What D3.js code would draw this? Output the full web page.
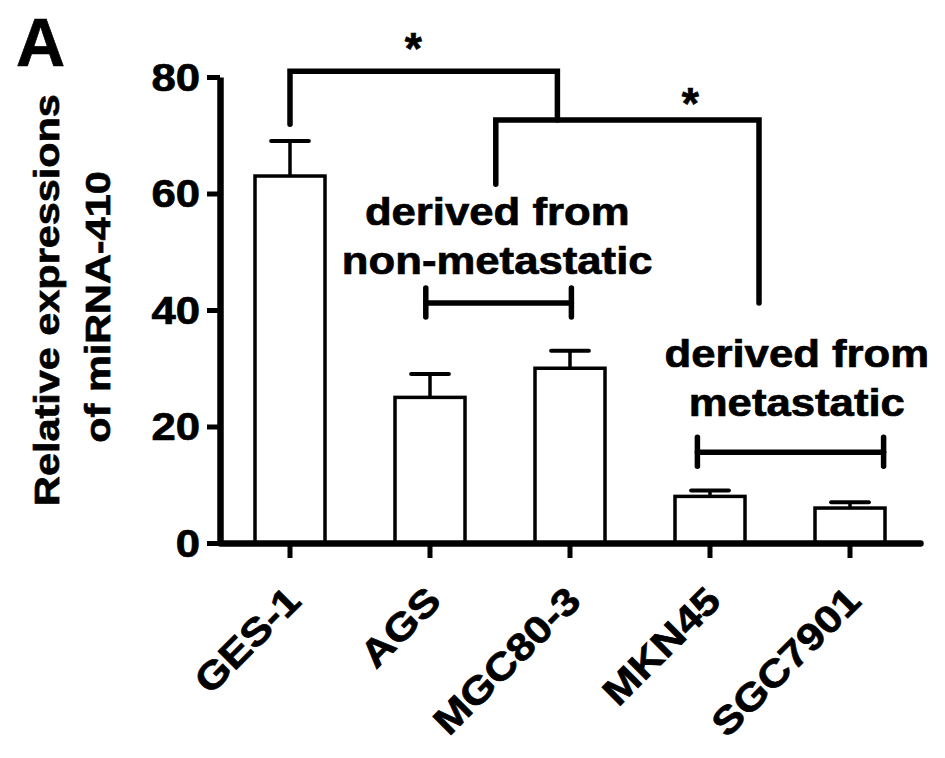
<!DOCTYPE html>
<html>
<head>
<meta charset="utf-8">
<script src="https://cdn.jsdelivr.net/npm/d3@7"></script>
<style>
  body { margin: 0; background: #fff; }
  text { font-family: "Liberation Sans", Arial, sans-serif; font-weight: bold; fill: #000; stroke: #000; stroke-width: 0.7px; }
</style>
</head>
<body>
<div id="chart"></div>
<script>
// data
const cellLines = ["GES-1", "AGS", "MGC80-3", "MKN45", "SGC7901"];
const expression = [63, 25, 30, 8, 6];
const errorUpper = [6, 4, 3, 1, 1];
const yTicks = [0, 20, 40, 60, 80];

// significance brackets: x in category-index units, y in data units
const sigBrackets = [
    [[0, 71.9], [0, 81], [1.91, 81], [1.91, 72.6]],
    [[1.47, 61.6], [1.47, 72.6], [3.35, 72.6], [3.35, 41.2]]
];
const starPos = [[0.88, 82.3], [2.86, 72.8]];

// group brackets [fromIndex, toIndex, value] and their labels
const groupBrackets = [[0.97, 2.01, 41.2], [2.91, 4.24, 15.6]];
const groupLabels = [["derived from", "non-metastatic"], ["derived from", "metastatic"]];
const groupLabelPos = [[1.48, 54.6], [3.62, 30.2]];

const width = 945, height = 758;
const stretch = 1.15;   // the figure's lettering is a bit wider than Arial

let svg = d3.select("#chart")
    .append("svg")
    .attr("width", width)
    .attr("height", height);

let x = d3.scaleBand()
    .domain(cellLines)
    .range([220, 920])
    .paddingInner(0.5)
    .paddingOuter(0.25);

let y = d3.scaleLinear()
    .domain([0, 80])
    .range([543, 77]);

let bw = x.bandwidth();
// index scale for the annotations
let xi = d3.scaleLinear()
    .domain([0, cellLines.length - 1])
    .range([x(cellLines[0]) + bw / 2, x(cellLines[cellLines.length - 1]) + bw / 2]);

let rows = cellLines.map(function(c, i) {
    return {name: c, value: expression[i], err: errorUpper[i]};
});

// bars
svg.append("g").selectAll("rect")
    .data(rows)
    .enter()
    .append("rect")
    .attr("x", function(d) { return x(d.name); })
    .attr("y", function(d) { return y(d.value); })
    .attr("width", bw)
    .attr("height", function(d) { return y(0) - y(d.value); })
    .attr("fill", "#fff")
    .attr("stroke", "#000")
    .attr("stroke-width", 3.5);

// error bars (upper only)
let err = svg.append("g").attr("stroke", "#000");
err.selectAll("line.stem")
    .data(rows)
    .enter()
    .append("line")
    .attr("class", "stem")
    .attr("x1", function(d) { return x(d.name) + bw / 2; })
    .attr("x2", function(d) { return x(d.name) + bw / 2; })
    .attr("y1", function(d) { return y(d.value); })
    .attr("y2", function(d) { return y(d.value + d.err); })
    .attr("stroke-width", 3.5);
err.selectAll("line.cap")
    .data(rows)
    .enter()
    .append("line")
    .attr("class", "cap")
    .attr("x1", function(d) { return x(d.name) + bw / 2 - bw * 0.27; })
    .attr("x2", function(d) { return x(d.name) + bw / 2 + bw * 0.27; })
    .attr("y1", function(d) { return y(d.value + d.err); })
    .attr("y2", function(d) { return y(d.value + d.err); })
    .attr("stroke-width", 4)
    .attr("stroke-linecap", "round");

// y axis
let yAxis = svg.append("g")
    .attr("transform", "translate(220,0)")
    .call(d3.axisLeft(y).tickValues(yTicks).tickSize(13).tickSizeOuter(0));
yAxis.select(".domain").attr("stroke-width", 6.5);
yAxis.selectAll(".tick line").attr("stroke-width", 5);
yAxis.selectAll(".tick text")
    .attr("x", null)
    .attr("dy", null)
    .attr("font-size", 38)
    .attr("font-family", null)
    .attr("transform", `translate(-20,13) scale(${stretch},1)`);

// x axis
let xAxis = svg.append("g")
    .attr("transform", `translate(0,${y(0)})`)
    .call(d3.axisBottom(x).tickSize(15).tickSizeOuter(0));
xAxis.select(".domain").attr("stroke-width", 6.5).attr("stroke-linecap", "round");
xAxis.selectAll(".tick line").attr("stroke-width", 5);
xAxis.selectAll(".tick text")
    .attr("y", null)
    .attr("dy", null)
    .attr("font-size", 38)
    .attr("font-family", null)
    .attr("text-anchor", "end")
    .attr("transform", `translate(13,60) rotate(-45) scale(${stretch},1)`);

svg.selectAll(".domain, .tick line").attr("stroke", "#000");

// significance brackets
let bracketLine = d3.line()
    .x(function(d) { return xi(d[0]); })
    .y(function(d) { return y(d[1]); });

svg.append("g").selectAll("path")
    .data(sigBrackets)
    .enter()
    .append("path")
    .attr("d", bracketLine)
    .attr("fill", "none")
    .attr("stroke", "#000")
    .attr("stroke-width", 5.5)
    .attr("stroke-linecap", "round");

svg.append("g").selectAll("text")
    .data(starPos)
    .enter()
    .append("text")
    .attr("transform", function(d) { return `translate(${xi(d[0])},${y(d[1])})`; })
    .attr("text-anchor", "middle")
    .attr("font-size", 44)
    .text("*");

// group brackets
let gb = svg.append("g")
    .attr("stroke", "#000")
    .attr("stroke-width", 5.5)
    .attr("stroke-linecap", "round");
groupBrackets.forEach(function(b) {
    let yy = y(b[2]);
    gb.append("line").attr("x1", xi(b[0])).attr("x2", xi(b[1])).attr("y1", yy).attr("y2", yy);
    gb.append("line").attr("x1", xi(b[0])).attr("x2", xi(b[0])).attr("y1", yy - 15).attr("y2", yy + 14);
    gb.append("line").attr("x1", xi(b[1])).attr("x2", xi(b[1])).attr("y1", yy - 15).attr("y2", yy + 14);
});

// group labels
groupLabels.forEach(function(lines, i) {
    let p = groupLabelPos[i];
    let t = svg.append("text")
        .attr("transform", `translate(${xi(p[0])},${y(p[1])}) scale(${stretch},1)`)
        .attr("text-anchor", "middle")
        .attr("font-size", 38);
    lines.forEach(function(l, j) {
        t.append("tspan").attr("x", 0).attr("dy", j === 0 ? 0 : "1.3em").text(l);
    });
});

// y axis title, two lines
svg.append("text")
    .attr("transform", `translate(59,300) rotate(-90) scale(${stretch},1)`)
    .attr("text-anchor", "middle")
    .attr("font-size", 36)
    .text("Relative expressions");
svg.append("text")
    .attr("transform", `translate(110,307) rotate(-90) scale(${stretch},1)`)
    .attr("text-anchor", "middle")
    .attr("font-size", 36)
    .text("of miRNA-410");

// panel letter
svg.append("text")
    .attr("x", 16)
    .attr("y", 66)
    .attr("font-size", 68)
    .text("A");
</script>
</body>
</html>
